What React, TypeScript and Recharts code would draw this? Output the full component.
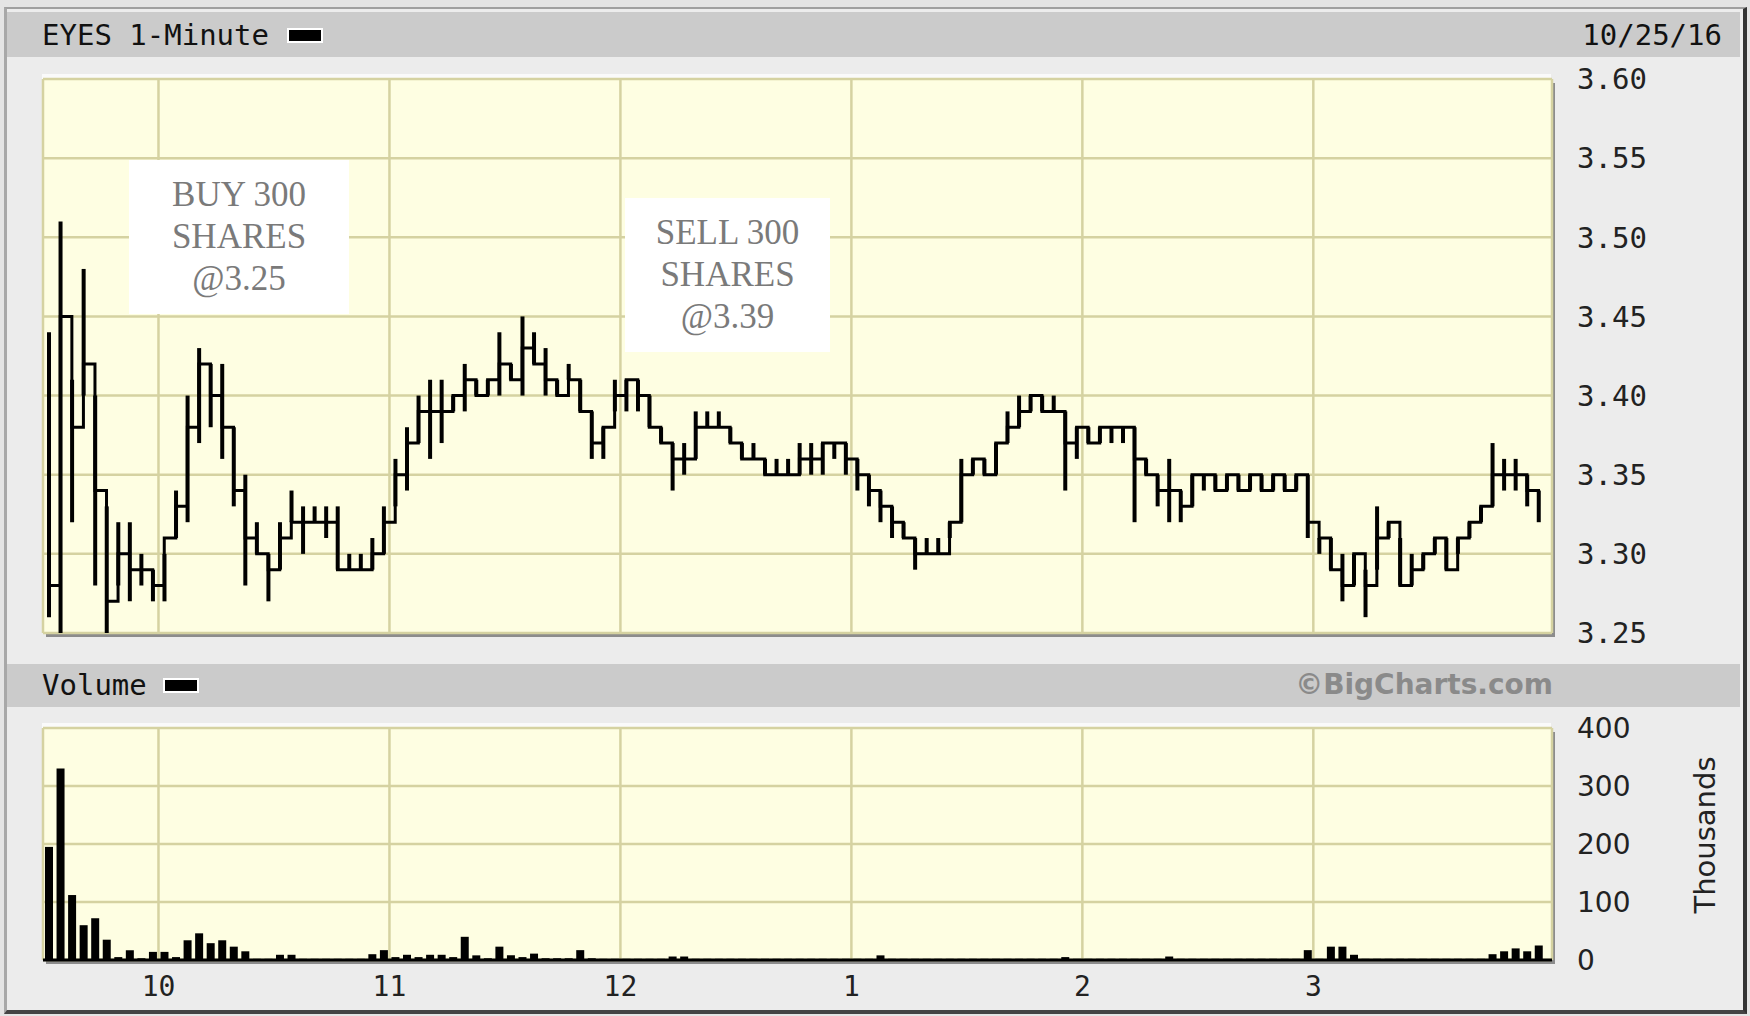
import { ComposedChart, Bar, Line, XAxis, YAxis, CartesianGrid } from "recharts";

// 3-minute bars from 9:30 to 4:00 (130 bars)
const highs = [
  3.44, 3.51, 3.41, 3.48, 3.40, 3.33, 3.32, 3.32, 3.30, 3.29,
  3.30, 3.34, 3.40, 3.43, 3.42, 3.42, 3.38, 3.35, 3.32, 3.30,
  3.32, 3.34, 3.33, 3.33, 3.33, 3.33, 3.30, 3.30, 3.31, 3.33,
  3.36, 3.38, 3.40, 3.41, 3.41, 3.40, 3.42, 3.41, 3.41, 3.44,
  3.42, 3.45, 3.44, 3.43, 3.41, 3.42, 3.41, 3.39, 3.38, 3.41,
  3.41, 3.41, 3.40, 3.38, 3.37, 3.37, 3.39, 3.39, 3.39, 3.38,
  3.37, 3.37, 3.36, 3.36, 3.36, 3.37, 3.37, 3.37, 3.37, 3.37,
  3.36, 3.35, 3.34, 3.33, 3.32, 3.31, 3.31, 3.31, 3.32, 3.36,
  3.36, 3.36, 3.37, 3.39, 3.40, 3.40, 3.40, 3.40, 3.39, 3.38,
  3.38, 3.38, 3.38, 3.38, 3.38, 3.36, 3.35, 3.36, 3.34, 3.35,
  3.35, 3.35, 3.35, 3.35, 3.35, 3.35, 3.35, 3.35, 3.35, 3.35,
  3.31, 3.31, 3.30, 3.30, 3.29, 3.33, 3.32, 3.31, 3.30, 3.30,
  3.31, 3.31, 3.31, 3.32, 3.33, 3.37, 3.36, 3.36, 3.35, 3.34,
];

const lows = [
  3.26, 3.25, 3.32, 3.40, 3.28, 3.25, 3.28, 3.27, 3.28, 3.27,
  3.27, 3.31, 3.32, 3.37, 3.38, 3.36, 3.33, 3.28, 3.30, 3.27,
  3.29, 3.32, 3.30, 3.32, 3.31, 3.29, 3.29, 3.29, 3.29, 3.30,
  3.33, 3.34, 3.37, 3.36, 3.37, 3.39, 3.39, 3.40, 3.40, 3.40,
  3.41, 3.40, 3.42, 3.40, 3.40, 3.41, 3.39, 3.36, 3.36, 3.39,
  3.39, 3.39, 3.38, 3.37, 3.34, 3.35, 3.36, 3.38, 3.38, 3.37,
  3.36, 3.36, 3.35, 3.35, 3.35, 3.35, 3.35, 3.35, 3.36, 3.35,
  3.34, 3.33, 3.32, 3.31, 3.31, 3.29, 3.30, 3.30, 3.31, 3.32,
  3.35, 3.35, 3.35, 3.37, 3.38, 3.39, 3.39, 3.39, 3.34, 3.36,
  3.37, 3.37, 3.37, 3.37, 3.32, 3.35, 3.33, 3.32, 3.32, 3.33,
  3.34, 3.34, 3.34, 3.34, 3.34, 3.34, 3.34, 3.34, 3.34, 3.31,
  3.30, 3.29, 3.27, 3.28, 3.26, 3.29, 3.31, 3.28, 3.28, 3.29,
  3.30, 3.29, 3.30, 3.31, 3.32, 3.33, 3.34, 3.34, 3.33, 3.32,
];

const closes = [
  3.28, 3.45, 3.38, 3.42, 3.34, 3.27, 3.30, 3.29, 3.29, 3.28,
  3.31, 3.33, 3.38, 3.42, 3.40, 3.38, 3.34, 3.31, 3.30, 3.29,
  3.31, 3.32, 3.32, 3.32, 3.32, 3.29, 3.29, 3.29, 3.30, 3.32,
  3.35, 3.37, 3.39, 3.39, 3.39, 3.40, 3.41, 3.40, 3.41, 3.42,
  3.41, 3.43, 3.42, 3.41, 3.40, 3.41, 3.39, 3.37, 3.38, 3.40,
  3.41, 3.40, 3.38, 3.37, 3.36, 3.36, 3.38, 3.38, 3.38, 3.37,
  3.36, 3.36, 3.35, 3.35, 3.35, 3.36, 3.36, 3.37, 3.37, 3.36,
  3.35, 3.34, 3.33, 3.32, 3.31, 3.30, 3.30, 3.30, 3.32, 3.35,
  3.36, 3.35, 3.37, 3.38, 3.39, 3.40, 3.39, 3.39, 3.37, 3.38,
  3.37, 3.38, 3.38, 3.38, 3.36, 3.35, 3.34, 3.34, 3.33, 3.35,
  3.35, 3.34, 3.35, 3.34, 3.35, 3.34, 3.35, 3.34, 3.35, 3.32,
  3.31, 3.29, 3.28, 3.30, 3.28, 3.31, 3.32, 3.28, 3.29, 3.30,
  3.31, 3.29, 3.31, 3.32, 3.33, 3.35, 3.35, 3.35, 3.34, 3.33,
];

// volume in thousands
const volumes = [
  195, 330, 112, 60, 72, 35, 5, 17, 3, 14,
  14, 5, 34, 46, 29, 34, 23, 15, 2, 2,
  9, 9, 2, 2, 2, 2, 2, 2, 10, 17,
  5, 9, 5, 9, 9, 5, 40, 8, 3, 23,
  8, 5, 11, 3, 3, 3, 17, 3, 2, 2,
  2, 2, 2, 2, 6, 6, 2, 2, 2, 2,
  2, 2, 2, 2, 2, 2, 2, 2, 2, 2,
  2, 2, 8, 2, 2, 2, 2, 2, 2, 2,
  2, 2, 2, 2, 2, 2, 2, 2, 5, 2,
  2, 2, 2, 2, 2, 2, 2, 6, 2, 2,
  2, 2, 2, 2, 2, 2, 2, 2, 2, 17,
  2, 23, 23, 9, 2, 2, 2, 2, 2, 2,
  2, 2, 2, 2, 2, 10, 15, 20, 15, 25,
];

const hourTicks = [30, 90, 150, 210, 270, 330];
const hourLabels = ["10", "11", "12", "1", "2", "3"];
const priceTicks = [3.25, 3.3, 3.35, 3.4, 3.45, 3.5, 3.55, 3.6];
const volumeTicks = [0, 100, 200, 300, 400];

const data = closes.map((c, i) => ({
  t: 1.5 + i * 3,
  close: c,
  range: [lows[i], highs[i]],
  vol: volumes[i],
}));

const MONO = "'DejaVu Sans Mono', monospace";
const SANS = "'DejaVu Sans', sans-serif";
const GRID = "#d5d2a1";
const PLOT_BG = "#fefee2";

const noteStyle: React.CSSProperties = {
  position: "absolute",
  background: "#fff",
  color: "#7a7a7a",
  fontFamily: "'Liberation Serif', serif",
  fontSize: 35,
  lineHeight: "42px",
  textAlign: "center",
  display: "flex",
  flexDirection: "column",
  justifyContent: "center",
};

const App = () => {
  const hourFmt = (v: number) => hourLabels[hourTicks.indexOf(v)] ?? "";
  return (
    <div style={{ position: "absolute", left: 0, top: 0, width: 1750, height: 1016, background: "#e4e4e4", overflow: "hidden" }}>
      {/* outer frame */}
      <div
        style={{
          position: "absolute", left: 4, top: 7, width: 1736, height: 1001,
          background: "#ececec", borderTop: "2px solid #a0a0a0", borderLeft: "3px solid #a8a8a8",
          borderRight: "4px solid #333", borderBottom: "4px solid #444",
        }}
      />
      {/* header bars */}
      <div style={{ position: "absolute", left: 7, top: 12, width: 1733, height: 45, background: "#cbcbcb" }} />
      <div style={{ position: "absolute", left: 7, top: 664, width: 1733, height: 43, background: "#cbcbcb" }} />
      <div style={{ position: "absolute", left: 42, top: 18, fontFamily: MONO, fontSize: 29, color: "#111", lineHeight: "34px", display: "flex", alignItems: "center" }}>
        EYES 1-Minute
        <span style={{ display: "inline-block", width: 32, height: 11, background: "#000", border: "2px solid #fff", marginLeft: 18 }} />
      </div>
      <div style={{ position: "absolute", right: 28, top: 18, fontFamily: MONO, fontSize: 29, color: "#111", lineHeight: "34px" }}>10/25/16</div>
      <div style={{ position: "absolute", left: 42, top: 668, fontFamily: MONO, fontSize: 29, color: "#111", lineHeight: "34px", display: "flex", alignItems: "center" }}>
        Volume
        <span style={{ display: "inline-block", width: 32, height: 11, background: "#000", border: "2px solid #fff", marginLeft: 16 }} />
      </div>
      <div style={{ position: "absolute", right: 1750 - 1553, top: 668, fontFamily: SANS, fontWeight: "bold", fontSize: 28, color: "#8a8a8a", lineHeight: "34px" }}>
        ©BigCharts.com
      </div>

      {/* plot frames (shadow) */}
      <div style={{ position: "absolute", left: 43, top: 79, width: 1509, height: 554, boxShadow: "3px 4px 0 #8c8c8c, -1px -5px 0 #fafafa" }} />
      <div style={{ position: "absolute", left: 43, top: 728, width: 1509, height: 232, boxShadow: "3px 4px 0 #8c8c8c, -1px -5px 0 #fafafa" }} />

      {/* price chart */}
      <div style={{ position: "absolute", left: 0, top: 0 }}>
        <ComposedChart width={1750} height={660} data={data} margin={{ top: 79, right: 48, bottom: 27, left: 43 }}>
          <CartesianGrid stroke={GRID} strokeWidth={2.5} fill={PLOT_BG} fillOpacity={1} />
          <XAxis dataKey="t" type="number" domain={[0, 392]} ticks={hourTicks} hide />
          <YAxis
            orientation="right"
            width={150}
            domain={[3.25, 3.6]}
            ticks={priceTicks}
            tickFormatter={(v: number) => v.toFixed(2)}
            tick={{ fontFamily: MONO, fontSize: 29, fill: "#222" }}
            tickSize={0}
            tickMargin={25}
            axisLine={false}
            tickLine={false}
            allowDataOverflow
          />
          <Bar dataKey="range" fill="#000" barSize={4} isAnimationActive={false} />
          <Line dataKey="close" type="stepAfter" stroke="#000" strokeWidth={3} dot={false} isAnimationActive={false} />
        </ComposedChart>
      </div>

      {/* volume chart */}
      <div style={{ position: "absolute", left: 0, top: 700 }}>
        <ComposedChart width={1750} height={316} data={data} margin={{ top: 28, right: 48, bottom: 16, left: 43 }}>
          <CartesianGrid stroke={GRID} strokeWidth={2.5} fill={PLOT_BG} fillOpacity={1} />
          <XAxis
            dataKey="t"
            type="number"
            domain={[0, 392]}
            ticks={hourTicks}
            tickFormatter={hourFmt}
            height={40}
            tick={{ fontFamily: MONO, fontSize: 28, fill: "#222" }}
            tickSize={0}
            tickMargin={16}
            axisLine={{ stroke: "#000", strokeWidth: 3 }}
            tickLine={false}
          />
          <YAxis
            orientation="right"
            width={150}
            domain={[0, 400]}
            ticks={volumeTicks}
            tick={{ fontFamily: SANS, fontSize: 28, fill: "#222" }}
            tickSize={0}
            tickMargin={25}
            axisLine={false}
            tickLine={false}
          />
          <Bar dataKey="vol" fill="#000" barSize={8} isAnimationActive={false} />
        </ComposedChart>
      </div>
      <div
        style={{
          position: "absolute", left: 1705, top: 835, transform: "translate(-50%, -50%) rotate(-90deg)",
          fontFamily: SANS, fontSize: 29, color: "#222", whiteSpace: "nowrap",
        }}
      >
        Thousands
      </div>

      {/* trade notes */}
      <div style={{ ...noteStyle, left: 129, top: 160, width: 220, height: 154 }}>
        <div>BUY 300</div>
        <div>SHARES</div>
        <div>@3.25</div>
      </div>
      <div style={{ ...noteStyle, left: 625, top: 198, width: 205, height: 154 }}>
        <div>SELL 300</div>
        <div>SHARES</div>
        <div>@3.39</div>
      </div>
    </div>
  );
};

export default App;
